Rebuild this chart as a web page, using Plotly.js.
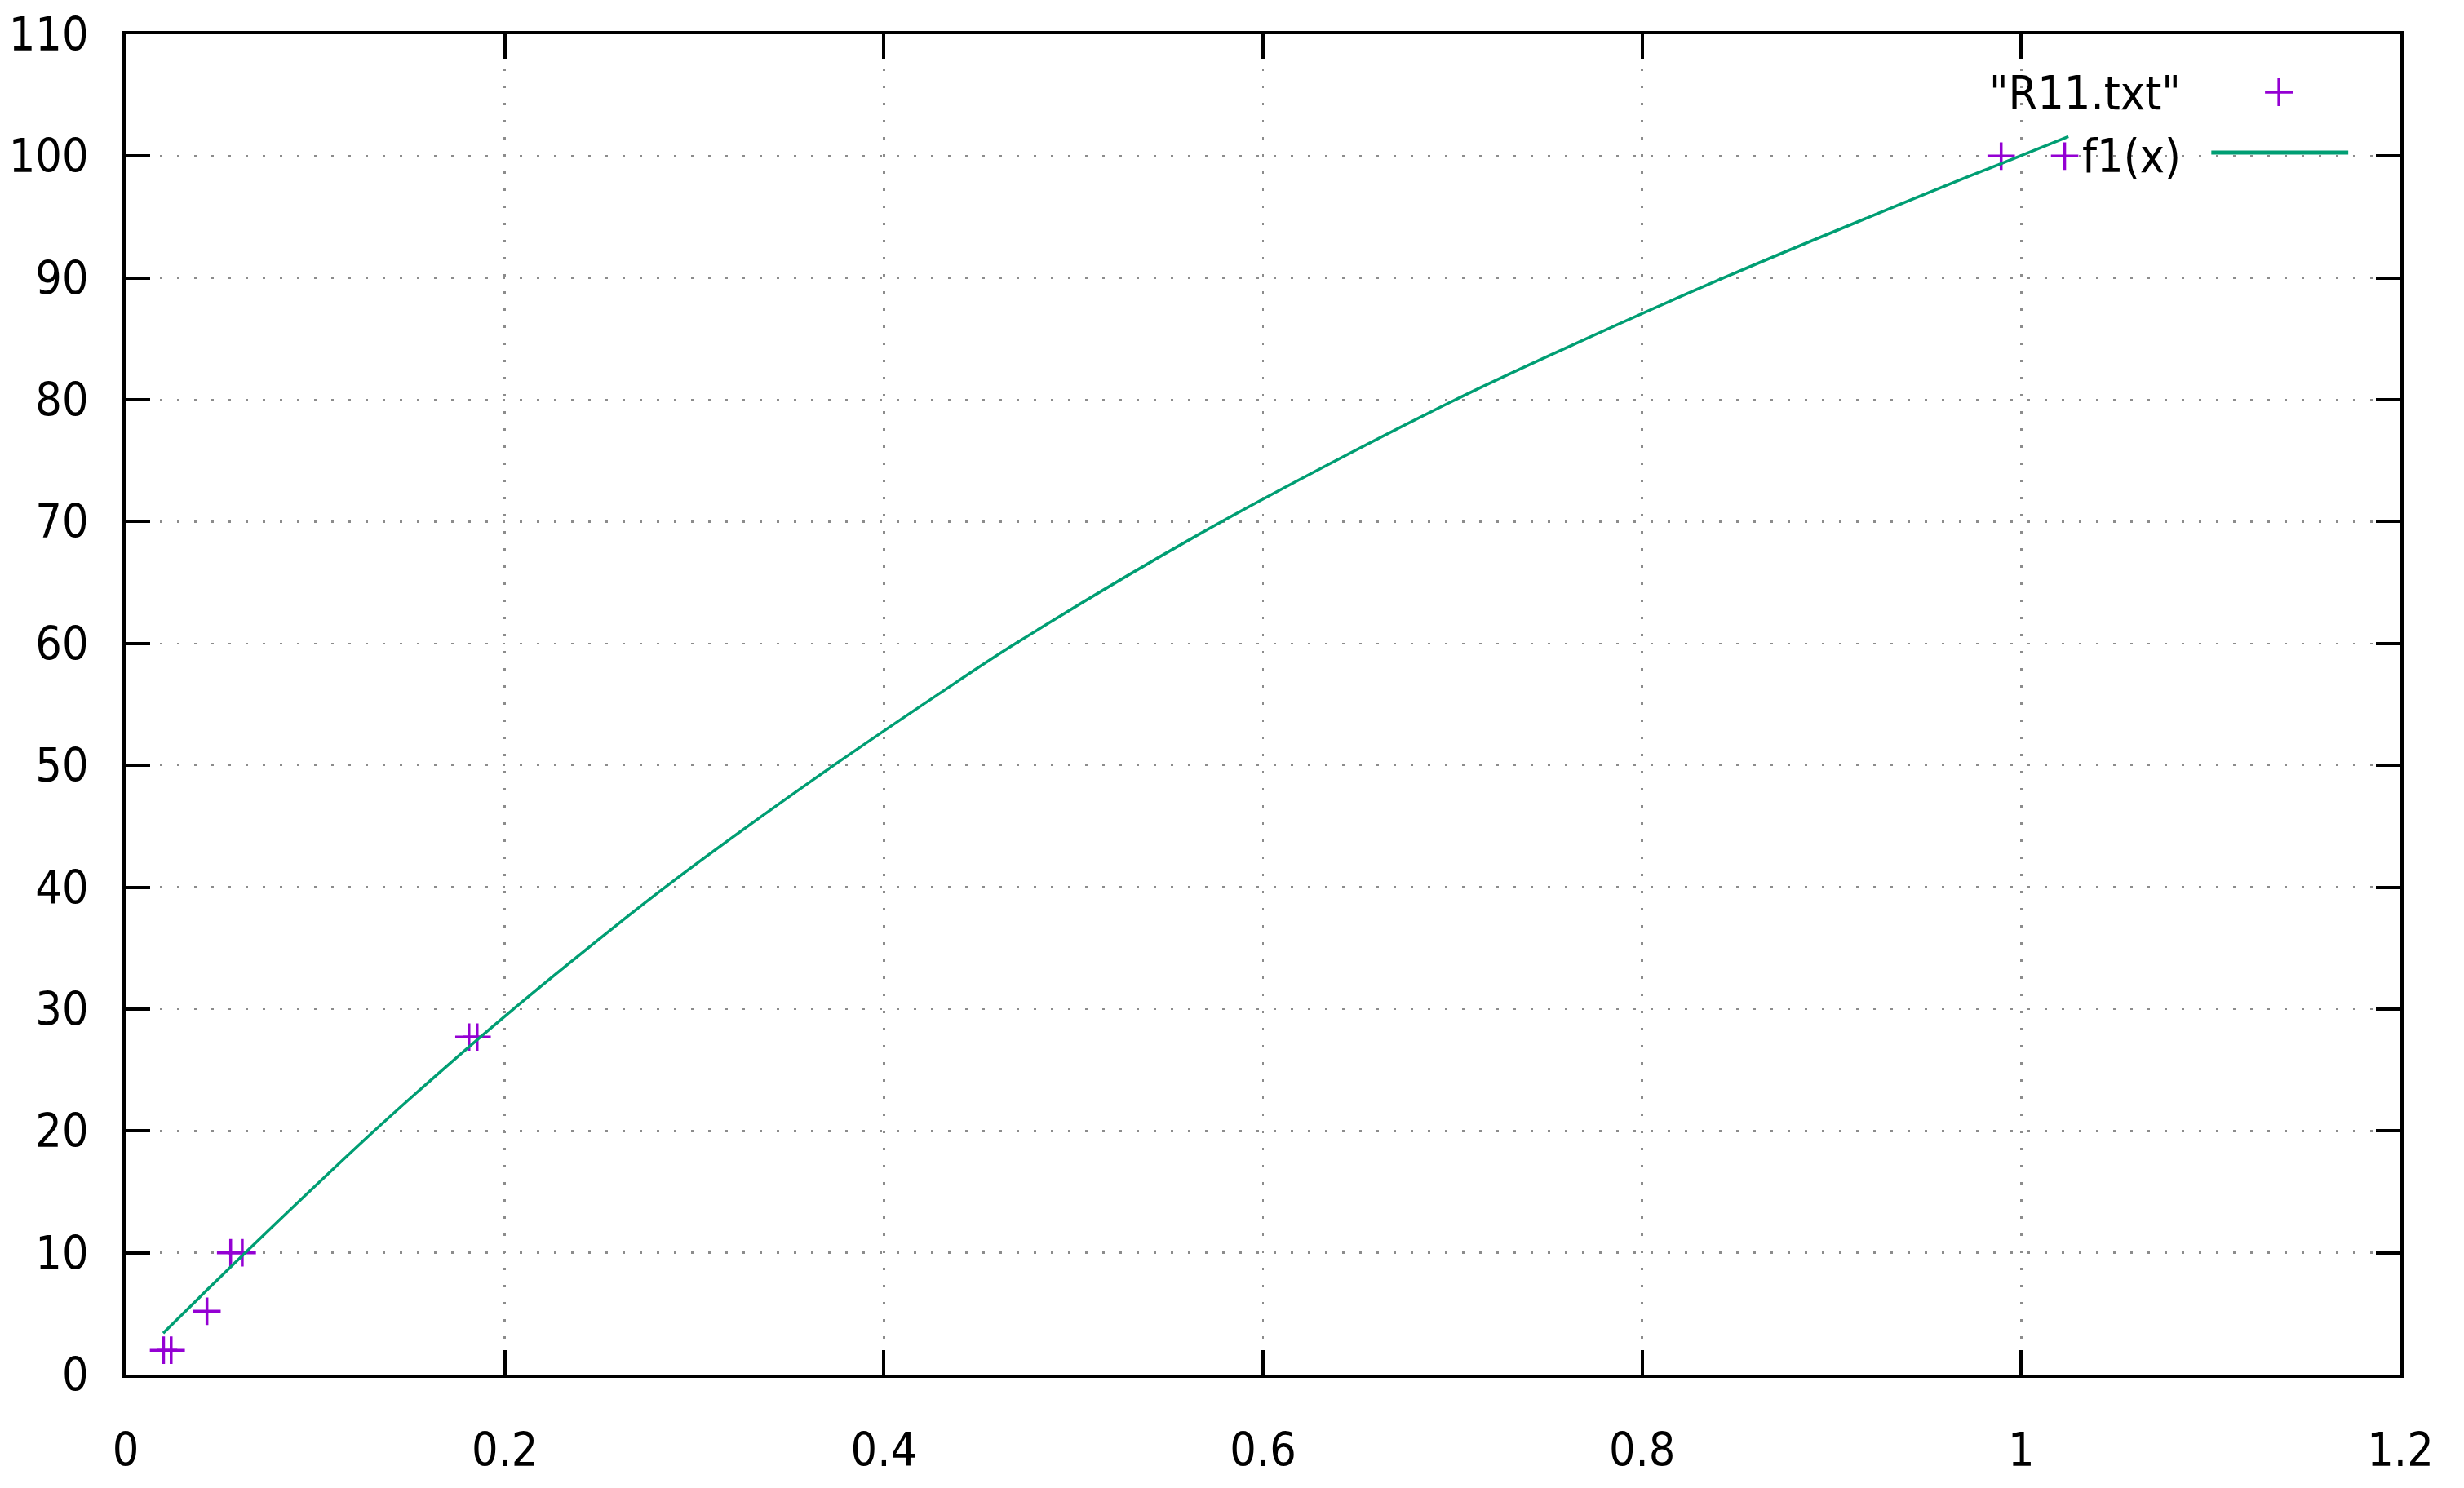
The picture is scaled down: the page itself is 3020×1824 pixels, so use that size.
<!DOCTYPE html>
<html><head><meta charset="utf-8">
<script src="https://cdn.plot.ly/plotly-3.0.1.min.js"></script>
<style>html,body{margin:0;padding:0;background:#fff}</style>
</head><body><div id="chart" style="width:3020px;height:1824px"></div>
<script>
const seriesNames = ['"R11.txt"', 'f1(x)'];
const dataX = [0.0200, 0.0240, 0.0429, 0.0554, 0.0615, 0.1811, 0.1854, 0.9894, 1.0229];
const dataY = [2.0, 2.0, 5.2, 10.0, 10.0, 27.7, 27.7, 100.0, 100.0];
const fitX = [0.0198, 0.0387, 0.0631, 0.1290, 0.1649, 0.2000, 0.2359, 0.2846, 0.3634, 0.4380, 0.4695, 0.5655, 0.6358, 0.7067, 0.7633, 0.8429, 0.9654, 0.9880, 1.0249];
const fitY = [3.4, 6.3, 10.0, 19.7, 24.7, 29.4, 34.0, 40.0, 48.9, 56.8, 60.0, 68.9, 74.8, 80.4, 84.5, 90.0, 97.9, 99.3, 101.6];
const xTickVals = [0, 0.2, 0.4, 0.6, 0.8, 1, 1.2];
const xTickText = ['0', '0.2', '0.4', '0.6', '0.8', '1', '1.2'];
const yTickVals = [0, 10, 20, 30, 40, 50, 60, 70, 80, 90, 100, 110];
const yTickText = ['0', '10', '20', '30', '40', '50', '60', '70', '80', '90', '100', '110'];

const FONT = '"DejaVu Sans Condensed", "DejaVu Sans", sans-serif';
const PURPLE = '#9400D3';
const GREEN = '#009E73';

const traces = [
  {
    x: dataX, y: dataY, name: seriesNames[0], type: 'scatter', mode: 'markers',
    marker: {symbol: 'cross-thin', size: 24, color: PURPLE, line: {color: PURPLE, width: 3.5}},
    showlegend: false, hoverinfo: 'skip'
  },
  {
    x: fitX, y: fitY, name: seriesNames[1], type: 'scatter', mode: 'lines',
    line: {color: GREEN, width: 3.5, shape: 'spline', smoothing: 1},
    showlegend: false, hoverinfo: 'skip'
  }
];

const axisCommon = {
  showline: true, linecolor: '#000', linewidth: 4, mirror: 'allticks',
  ticks: 'inside', ticklen: 30, tickwidth: 4, tickcolor: '#000',
  showgrid: true, gridcolor: '#8c8c8c', gridwidth: 2.5, griddash: '3px,18px',
  zeroline: false, tickmode: 'array',
  tickfont: {family: FONT, size: 57, color: '#000'}
};

const layout = {
  width: 3020, height: 1824,
  margin: {l: 154, r: 78, t: 42, b: 139},
  paper_bgcolor: '#fff', plot_bgcolor: '#fff',
  showlegend: false,
  xaxis: Object.assign({}, axisCommon, {range: [0, 1.2], tickvals: xTickVals, ticktext: xTickText, ticklabelstandoff: 40}),
  yaxis: Object.assign({}, axisCommon, {range: [0, 110], tickvals: yTickVals, ticktext: yTickText, ticklabelstandoff: 30}),
  annotations: [
    {text: seriesNames[0], xref: 'paper', yref: 'paper', x: 0.9043, y: 0.9562, xanchor: 'right', yanchor: 'middle', showarrow: false, font: {family: FONT, size: 57, color: '#000'}},
    {text: seriesNames[1], xref: 'paper', yref: 'paper', x: 0.9043, y: 0.9094, xanchor: 'right', yanchor: 'middle', showarrow: false, font: {family: FONT, size: 57, color: '#000'}}
  ],
  shapes: [
    {type: 'line', xref: 'paper', yref: 'paper', xsizemode: 'pixel', ysizemode: 'pixel', xanchor: 0.9466, yanchor: 0.9568, x0: -17, x1: 17, y0: 0, y1: 0, line: {color: PURPLE, width: 3.5}},
    {type: 'line', xref: 'paper', yref: 'paper', xsizemode: 'pixel', ysizemode: 'pixel', xanchor: 0.9466, yanchor: 0.9568, x0: 0, x1: 0, y0: -17, y1: 17, line: {color: PURPLE, width: 3.5}},
    {type: 'line', xref: 'paper', yref: 'paper', x0: 0.9169, x1: 0.9771, y0: 0.9118, y1: 0.9118, line: {color: GREEN, width: 5, dash: 'solid'}}
  ]
};

Plotly.newPlot('chart', traces, layout, {staticPlot: true, displayModeBar: false});
</script>
</body></html>
